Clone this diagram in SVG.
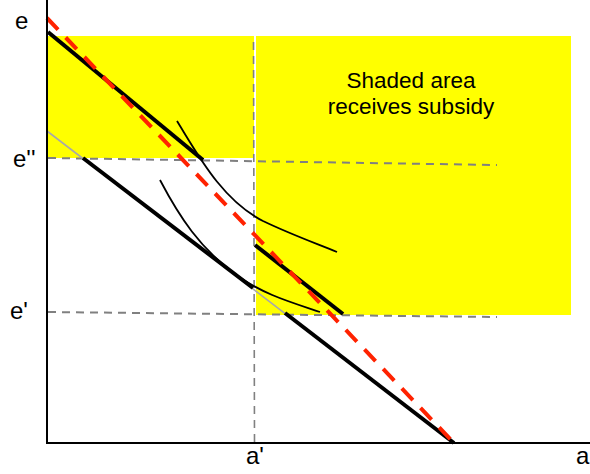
<svg xmlns="http://www.w3.org/2000/svg" width="590" height="474" viewBox="0 0 590 474">
<style>
.lbl{font-family:"Liberation Sans",Arial,sans-serif;font-size:24px;fill:#000}
.note{font-family:"Liberation Sans",Arial,sans-serif;font-size:22.5px;fill:#000;text-anchor:middle}
.guide{stroke:#808080;stroke-width:2;stroke-dasharray:8 6;fill:none}
.thick{stroke:#000;stroke-width:4;fill:none;stroke-linecap:butt}
.curve{stroke:#000;stroke-width:1.8;fill:none}
.axis{stroke:#000;stroke-width:2;fill:none}
</style>
<rect width="590" height="474" fill="#fff"/>
<g id="shaded-area">
<rect x="48" y="36" width="206" height="122" fill="#ffff00"/>
<rect x="256" y="36" width="315" height="279" fill="#ffff00"/>
</g>
<g id="guides">
<line class="guide" x1="48" y1="158" x2="497" y2="165"/>
<line class="guide" x1="48" y1="312" x2="497" y2="317"/>
<line class="guide" x1="253.5" y1="42" x2="254.5" y2="443" style="stroke-width:1.6"/>
</g>
<g id="connectors">
<line x1="47" y1="131" x2="454" y2="443" stroke="#a8a8a8" stroke-width="1.6"/>
<line class="thick" x1="83" y1="158" x2="253" y2="288"/>
<line class="thick" x1="285" y1="313" x2="454" y2="443"/>
<line class="thick" x1="48" y1="32" x2="203" y2="160"/>
<line class="thick" x1="255" y1="245" x2="343" y2="314"/>
<path class="curve" d="M177,121 C198,155 222,200 263,221 C290,234 315,243 337,252"/>
<path class="curve" d="M160,180 C180,218 200,248 235,274 C262,294 290,302 320,312"/>
<line x1="47" y1="18" x2="455" y2="444" stroke="#ff2200" stroke-width="4" stroke-dasharray="16 11"/>
</g>
<g id="axes">
<line class="axis" x1="47" y1="0" x2="47" y2="443"/>
<line class="axis" x1="46" y1="443" x2="590" y2="443"/>
</g>
<g id="labels">
<text class="lbl" x="15" y="29">e</text>
<text class="lbl" x="13" y="167">e''</text>
<text class="lbl" x="10" y="319">e'</text>
<text class="lbl" x="246" y="464">a'</text>
<text class="lbl" x="576" y="464">a</text>
</g>
<g id="note">
<text class="note" x="411" y="88">Shaded area</text>
<text class="note" x="411" y="114">receives subsidy</text>
</g>
</svg>
